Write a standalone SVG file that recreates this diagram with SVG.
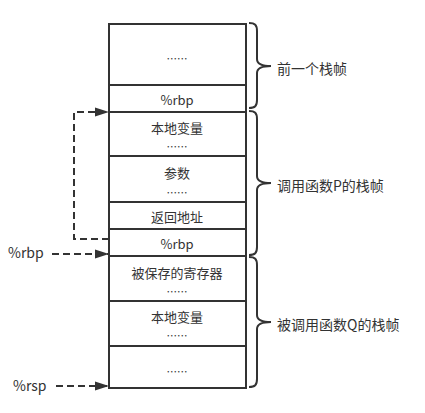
<svg xmlns="http://www.w3.org/2000/svg" width="425" height="413" viewBox="0 0 425 413">
<defs>
<style>
.cell{fill:#fff;stroke:#333;stroke-width:2}
.t{font-family:"Noto Sans CJK SC","Noto Sans",sans-serif;font-size:13px;fill:#333;text-anchor:middle;dominant-baseline:central}
.d{font-family:"Noto Sans CJK SC",sans-serif;font-size:10.5px;fill:#333;text-anchor:middle;dominant-baseline:central}
.l{font-family:"Noto Sans CJK SC","Noto Sans",sans-serif;font-size:14px;fill:#333;dominant-baseline:central}
.brace{fill:none;stroke:#333;stroke-width:2}
.dash{fill:none;stroke:#333;stroke-width:2;stroke-dasharray:7,4}
</style>
<marker id="ah" viewBox="0 0 14 10" refX="13" refY="5" markerWidth="14" markerHeight="10" markerUnits="userSpaceOnUse" orient="auto">
<path d="M0,0.5 L14,5 L0,9.5 Z" fill="#333"/>
</marker>
</defs>
<rect width="425" height="413" fill="#fff"/>
<g id="stack">
<g id="prev-more"><rect class="cell" x="109" y="24" width="137" height="61"/><text class="d" x="177" y="58">……</text></g>
<g id="prev-rbp"><rect class="cell" x="109" y="85" width="137" height="27"/><text class="t" x="177" y="99">%rbp</text></g>
<g id="p-locals"><rect class="cell" x="109" y="112" width="137" height="44"/><text class="t" x="177" y="127">本地变量</text><text class="d" x="177" y="146">……</text></g>
<g id="p-args"><rect class="cell" x="109" y="156" width="137" height="46"/><text class="t" x="177" y="172">参数</text><text class="d" x="177" y="192">……</text></g>
<g id="p-ret"><rect class="cell" x="109" y="202" width="137" height="27"/><text class="t" x="177" y="216">返回地址</text></g>
<g id="p-rbp"><rect class="cell" x="109" y="229" width="137" height="27"/><text class="t" x="177" y="243">%rbp</text></g>
<g id="q-saved"><rect class="cell" x="109" y="256" width="137" height="45"/><text class="t" x="177" y="272">被保存的寄存器</text><text class="d" x="177" y="291">……</text></g>
<g id="q-locals"><rect class="cell" x="109" y="301" width="137" height="45"/><text class="t" x="177" y="316">本地变量</text><text class="d" x="177" y="335">……</text></g>
<g id="q-more"><rect class="cell" x="109" y="346" width="137" height="42"/><text class="d" x="177" y="371">……</text></g>
</g>
<g id="brace-prev">
<path class="brace" d="M249,23 C255,23 257,25 257,31 L257,59 C257,64 261,66 271,66 C261,66 257,68 257,73 L257,100 C257,106 255,108 249,108"/>
<text class="l" x="277" y="68">前一个栈帧</text>
</g>
<g id="brace-p">
<path class="brace" d="M249,111 C255,111 257,113 257,119 L257,176 C257,181 261,183 271,183 C261,183 257,185 257,190 L257,247 C257,253 255,255 249,255"/>
<text class="l" x="277" y="185">调用函数P的栈帧</text>
</g>
<g id="brace-q">
<path class="brace" d="M249,257 C255,257 257,259 257,265 L257,315 C257,320 261,322 271,322 C261,322 257,324 257,329 L257,379 C257,385 255,387 249,387"/>
<text class="l" x="277" y="324">被调用函数Q的栈帧</text>
</g>
<g id="pointers">
<text class="l" x="8" y="252">%rbp</text>
<text class="l" x="13" y="385">%rsp</text>
</g>
<g id="connectors">
<path class="dash" d="M109,239 L74,239 L74,112 L108,112" marker-end="url(#ah)"/>
<path class="dash" d="M52,254 L108,254" marker-end="url(#ah)"/>
<path class="dash" d="M56,386 L108,386" marker-end="url(#ah)"/>
</g>
</svg>
